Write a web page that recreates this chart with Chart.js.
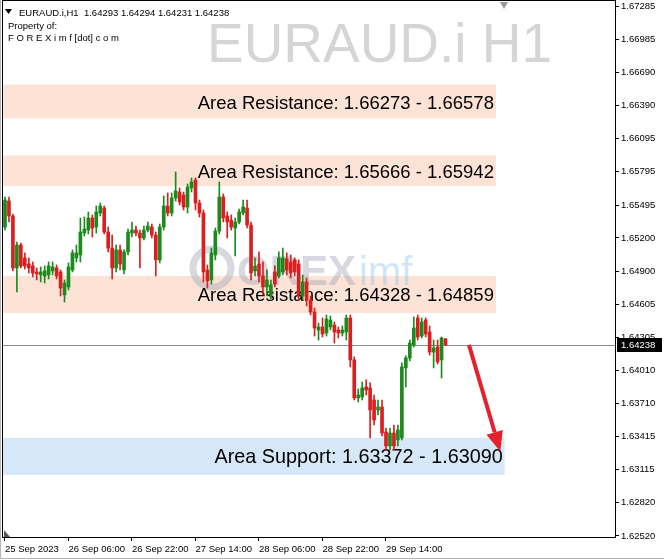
<!DOCTYPE html>
<html>
<head>
<meta charset="utf-8">
<script src="https://cdn.jsdelivr.net/npm/chart.js@4.4.0/dist/chart.umd.min.js"></script>
<style>
  html, body { margin: 0; padding: 0; background: #fff; }
  #wrap { width: 664px; height: 560px; }
</style>
</head>
<body>
<div id="wrap"><canvas id="chart" width="664" height="560"></canvas></div>
<script>
// EURAUD.i H1 candles (one per hour, oldest first)
const opens = [
  1.65298, 1.65532, 1.65397, 1.64930, 1.65136, 1.65020, 1.64966, 1.64948, 1.64894, 1.64867,
  1.64858, 1.64867, 1.64903, 1.64930, 1.64894, 1.64687, 1.64759, 1.64912, 1.65020, 1.65047,
  1.65244, 1.65271, 1.65379, 1.65298, 1.65424, 1.65469, 1.65253, 1.65109, 1.64930, 1.65092,
  1.64912, 1.65074, 1.65244, 1.65271, 1.65244, 1.65199, 1.65271, 1.65298, 1.65226, 1.65002,
  1.65298, 1.65487, 1.65424, 1.65559, 1.65613, 1.65586, 1.65478, 1.65649, 1.65721, 1.65514,
  1.65424, 1.64912, 1.64822, 1.65047, 1.65262, 1.65568, 1.65397, 1.65361, 1.65289, 1.65343,
  1.65424, 1.65469, 1.65316, 1.64903, 1.64966, 1.64858, 1.64759, 1.64687, 1.64894, 1.64858,
  1.64894, 1.65011, 1.64984, 1.65002, 1.64966, 1.64678, 1.64804, 1.64642, 1.64534, 1.64372,
  1.64399, 1.64345, 1.64399, 1.64417, 1.64372, 1.64345, 1.64354, 1.64480, 1.64103, 1.63761,
  1.63770, 1.63860, 1.63851, 1.63743, 1.63653, 1.63680, 1.63455, 1.63330, 1.63446, 1.63384,
  1.63402, 1.64031, 1.64121, 1.64237, 1.64480, 1.64318, 1.64462, 1.64354, 1.64174, 1.64219,
  1.64103, 1.64293
];
const highs = [
  1.65568, 1.65568, 1.65415, 1.65163, 1.65154, 1.65065, 1.65020, 1.64984, 1.64930, 1.64939,
  1.64948, 1.64984, 1.64984, 1.64957, 1.64912, 1.64822, 1.64975, 1.65092, 1.65136, 1.65379,
  1.65388, 1.65433, 1.65406, 1.65487, 1.65514, 1.65487, 1.65298, 1.65226, 1.65136, 1.65136,
  1.65092, 1.65280, 1.65343, 1.65307, 1.65271, 1.65307, 1.65343, 1.65325, 1.65253, 1.65325,
  1.65577, 1.65604, 1.65604, 1.65793, 1.65649, 1.65613, 1.65685, 1.65739, 1.65739, 1.65541,
  1.65451, 1.64957, 1.65109, 1.65289, 1.65703, 1.65595, 1.65433, 1.65406, 1.65379, 1.65460,
  1.65541, 1.65541, 1.65343, 1.65020, 1.65074, 1.64984, 1.64912, 1.64822, 1.64948, 1.65074,
  1.65109, 1.65065, 1.65047, 1.65020, 1.65002, 1.64867, 1.64840, 1.64678, 1.64570, 1.64435,
  1.64480, 1.64507, 1.64498, 1.64444, 1.64399, 1.64408, 1.64507, 1.64507, 1.64130, 1.63842,
  1.63905, 1.63923, 1.63896, 1.63788, 1.63743, 1.63743, 1.63491, 1.63491, 1.63518, 1.63518,
  1.64076, 1.64139, 1.64282, 1.64489, 1.64507, 1.64480, 1.64480, 1.64408, 1.64282, 1.64282,
  1.64309, 1.64294
];
const lows = [
  1.65271, 1.65343, 1.64903, 1.64714, 1.64930, 1.64921, 1.64885, 1.64849, 1.64822, 1.64804,
  1.64795, 1.64831, 1.64867, 1.64831, 1.64678, 1.64624, 1.64732, 1.64894, 1.64984, 1.64984,
  1.65217, 1.65235, 1.65208, 1.65244, 1.65397, 1.65235, 1.65074, 1.64831, 1.64894, 1.64912,
  1.64876, 1.65047, 1.65208, 1.65217, 1.64930, 1.65181, 1.65253, 1.65199, 1.64858, 1.64975,
  1.65271, 1.65397, 1.65397, 1.65532, 1.65496, 1.65451, 1.65424, 1.65613, 1.65451, 1.65388,
  1.64804, 1.64750, 1.64786, 1.65002, 1.65235, 1.65343, 1.65199, 1.65271, 1.65038, 1.65325,
  1.65406, 1.65289, 1.64822, 1.64858, 1.64804, 1.64687, 1.64678, 1.64651, 1.64759, 1.64840,
  1.64867, 1.64867, 1.64840, 1.64858, 1.64642, 1.64642, 1.64588, 1.64507, 1.64318, 1.64282,
  1.64309, 1.64318, 1.64372, 1.64255, 1.64300, 1.64318, 1.64282, 1.64040, 1.63743, 1.63725,
  1.63743, 1.63788, 1.63402, 1.63518, 1.63608, 1.63419, 1.63294, 1.63294, 1.63294, 1.63330,
  1.63384, 1.63860, 1.64094, 1.64219, 1.64282, 1.64300, 1.64309, 1.64147, 1.64031, 1.64067,
  1.63941, 1.64231
];
const closes = [
  1.65541, 1.65397, 1.64930, 1.65136, 1.64948, 1.64948, 1.64930, 1.64885, 1.64876, 1.64894,
  1.64903, 1.64948, 1.64939, 1.64858, 1.64750, 1.64795, 1.64939, 1.65065, 1.65065, 1.65253,
  1.65280, 1.65379, 1.65289, 1.65433, 1.65487, 1.65253, 1.65109, 1.64930, 1.65092, 1.64966,
  1.65074, 1.65253, 1.65271, 1.65244, 1.65199, 1.65271, 1.65307, 1.65226, 1.65002, 1.65298,
  1.65487, 1.65424, 1.65559, 1.65622, 1.65523, 1.65478, 1.65658, 1.65703, 1.65514, 1.65424,
  1.64894, 1.64813, 1.65065, 1.65262, 1.65568, 1.65379, 1.65343, 1.65298, 1.65343, 1.65433,
  1.65478, 1.65316, 1.64885, 1.64948, 1.64858, 1.64759, 1.64822, 1.64777, 1.64786, 1.65020,
  1.65020, 1.64912, 1.64885, 1.64894, 1.64687, 1.64804, 1.64642, 1.64534, 1.64390, 1.64399,
  1.64336, 1.64471, 1.64462, 1.64354, 1.64345, 1.64372, 1.64480, 1.64103, 1.63761, 1.63788,
  1.63851, 1.63833, 1.63653, 1.63563, 1.63680, 1.63446, 1.63330, 1.63446, 1.63330, 1.63473,
  1.64040, 1.64121, 1.64255, 1.64390, 1.64309, 1.64444, 1.64336, 1.64174, 1.64210, 1.64085,
  1.64300, 1.64238
];

// time axis: one label every 16 bars
const xTickLabels = ['25 Sep 2023', '26 Sep 06:00', '26 Sep 22:00', '27 Sep 14:00', '28 Sep 06:00', '28 Sep 22:00', '29 Sep 14:00'];
const barsPerTick = 16;
const totalSlots = 154.2; // bars that fit in the window incl. chart shift

// price axis
const yTicks = [1.67285, 1.66985, 1.66690, 1.66390, 1.66095, 1.65795, 1.65495, 1.65200, 1.64900,
  1.64605, 1.64305, 1.64010, 1.63710, 1.63415, 1.63115, 1.62820, 1.62520];
const yMin = 1.62511;
const yMax = 1.67330;

// drawn areas
const zoneTops = [1.66578, 1.65942, 1.64859, 1.63402];
const zoneBottoms = [1.66273, 1.65666, 1.64525, 1.63069];
const zoneEnds = [123.7, 123.7, 123.7, 125.9];
const zoneLabels = ['Area Resistance: 1.66273 - 1.66578', 'Area Resistance: 1.65666 - 1.65942',
  'Area Resistance: 1.64328 - 1.64859', 'Area Support: 1.63372 - 1.63090'];
const zoneKinds = ['res', 'res', 'res', 'sup'];

const lastPrice = 1.64238;
const arrowFrom = [116.9, 1.64238];
const arrowTo = [124.8, 1.63280];

const GREEN = '#1d8a1d';
const RED = '#d91f1f';
const FONT = '"Liberation Sans", Arial, sans-serif';
const zoneStyle = {
    res: { fill: '#fce3d6', font: '18.5px ' + FONT },
    sup: { fill: '#d6e7f8', font: '19.8px ' + FONT }
};

const candleColor = ctx => {
    const i = ctx.dataIndex;
    return closes[i] >= opens[i] ? GREEN : RED;
};

const overlay = {
    id: 'overlay',
    beforeDatasetsDraw(chart) {
        const { ctx, chartArea: a, scales: { x, y } } = chart;
        ctx.save();
        ctx.beginPath();
        ctx.rect(a.left, a.top, a.right - a.left, a.bottom - a.top);
        ctx.clip();

        // symbol watermark
        ctx.font = '56px ' + FONT;
        ctx.fillStyle = '#d5d5d5';
        const t = 'EURAUD.i H1';
        const tw = ctx.measureText(t).width;
        ctx.save();
        ctx.translate(207, 62);
        ctx.scale(345 / tw, 1);
        ctx.fillText(t, 0, 0);
        ctx.restore();

        // zones
        zoneTops.forEach((top, i) => {
            const y1 = y.getPixelForValue(top);
            const y2 = y.getPixelForValue(zoneBottoms[i]);
            const x2 = x.getPixelForValue(zoneEnds[i]);
            ctx.fillStyle = zoneStyle[zoneKinds[i]].fill;
            ctx.fillRect(a.left, y1, x2 - a.left, y2 - y1);
        });

        // site logo watermark
        ctx.globalAlpha = 0.42;
        ctx.strokeStyle = '#9fa3b4';
        ctx.lineWidth = 7;
        ctx.beginPath();
        ctx.arc(212, 268, 19, 0, Math.PI * 2);
        ctx.stroke();
        ctx.font = 'bold 42px ' + FONT;
        ctx.fillStyle = '#9fa3b4';
        ctx.fillText('OREX', 237, 285);
        const ow = ctx.measureText('OREX').width;
        ctx.fillStyle = '#8ec3ea';
        ctx.font = '40px ' + FONT;
        ctx.fillText('imf', 237 + ow + 3, 285);
        ctx.globalAlpha = 1;

        // zone texts
        ctx.fillStyle = '#000';
        ctx.textAlign = 'right';
        zoneTops.forEach((top, i) => {
            const mid = (y.getPixelForValue(top) + y.getPixelForValue(zoneBottoms[i])) / 2;
            const x2 = x.getPixelForValue(zoneEnds[i]);
            ctx.font = zoneStyle[zoneKinds[i]].font;
            ctx.fillText(zoneLabels[i], x2 - 2, mid + 7);
        });

        // bid line
        const py = Math.round(y.getPixelForValue(lastPrice)) + 0.5;
        ctx.strokeStyle = '#8a8a8a';
        ctx.lineWidth = 1;
        ctx.beginPath();
        ctx.moveTo(a.left, py);
        ctx.lineTo(a.right, py);
        ctx.stroke();
        ctx.restore();
    },
    afterDatasetsDraw(chart) {
        const { ctx, scales: { x, y } } = chart;
        const x0 = x.getPixelForValue(arrowFrom[0]), y0 = y.getPixelForValue(arrowFrom[1]);
        const x1 = x.getPixelForValue(arrowTo[0]), y1 = y.getPixelForValue(arrowTo[1]);
        const ang = Math.atan2(y1 - y0, x1 - x0);
        const head = 20, half = 8.5;
        const bx = x1 - head * Math.cos(ang), by = y1 - head * Math.sin(ang);
        ctx.save();
        ctx.strokeStyle = '#e4222d';
        ctx.fillStyle = '#e4222d';
        ctx.lineWidth = 4;
        ctx.beginPath();
        ctx.moveTo(x0, y0);
        ctx.lineTo(bx, by);
        ctx.stroke();
        ctx.beginPath();
        ctx.moveTo(x1, y1);
        ctx.lineTo(bx + half * Math.sin(ang), by - half * Math.cos(ang));
        ctx.lineTo(bx - half * Math.sin(ang), by + half * Math.cos(ang));
        ctx.closePath();
        ctx.fill();
        ctx.restore();
    },
    afterDraw(chart) {
        const { ctx, chartArea: a, scales: { y } } = chart;
        ctx.save();
        // frame
        ctx.strokeStyle = '#000';
        ctx.lineWidth = 1;
        ctx.strokeRect(a.left - 0.5, a.top - 0.5, a.right - a.left + 1, a.bottom - a.top + 1);
        // window edge
        ctx.strokeStyle = '#b4b4b4';
        ctx.beginPath();
        ctx.moveTo(0.5, 0); ctx.lineTo(0.5, 558.5); ctx.lineTo(664, 558.5);
        ctx.stroke();

        // header
        ctx.fillStyle = '#000';
        ctx.beginPath();
        ctx.moveTo(5, 9); ctx.lineTo(12, 9); ctx.lineTo(8.5, 14); ctx.closePath();
        ctx.fill();
        ctx.font = '9.5px ' + FONT;
        ctx.textAlign = 'left';
        ctx.fillText('EURAUD.i,H1  1.64293 1.64294 1.64231 1.64238', 19, 16);
        ctx.fillText('Property of:', 8, 29);
        ctx.fillText('F O R E X i m f [dot] c o m', 8, 41);

        // price tag
        const py = Math.round(y.getPixelForValue(lastPrice));
        ctx.fillStyle = '#000';
        ctx.fillRect(a.right + 2, py - 7, 45, 14);
        ctx.fillStyle = '#fff';
        ctx.textBaseline = 'middle';
        ctx.fillText(lastPrice.toFixed(5), a.right + 6, py + 0.5);

        // shift markers
        ctx.fillStyle = '#9a9a9a';
        ctx.beginPath();
        ctx.moveTo(500, a.top + 1); ctx.lineTo(508, a.top + 1); ctx.lineTo(504, a.top + 8); ctx.closePath();
        ctx.fill();
        ctx.fillStyle = '#555';
        ctx.beginPath();
        ctx.moveTo(a.left + 1, a.bottom - 7); ctx.lineTo(a.left + 1, a.bottom); ctx.lineTo(a.left + 7, a.bottom); ctx.closePath();
        ctx.fill();
        ctx.restore();
    }
};

const idx = opens.map((_, i) => i);

new Chart(document.getElementById('chart'), {
    type: 'bar',
    data: {
        datasets: [
            {
                label: 'body',
                data: idx.map(i => ({ x: i, y: [opens[i], closes[i]] })),
                backgroundColor: candleColor,
                barThickness: 3,
                minBarLength: 1,
                grouped: false,
                borderWidth: 0
            },
            {
                label: 'wick',
                data: idx.map(i => ({ x: i, y: [lows[i], highs[i]] })),
                backgroundColor: candleColor,
                barThickness: 1,
                grouped: false,
                borderWidth: 0
            }
        ]
    },
    options: {
        responsive: false,
        devicePixelRatio: 1,
        animation: false,
        layout: { padding: { left: 3, top: 1, right: 0, bottom: 0 } },
        plugins: { legend: { display: false }, tooltip: { enabled: false } },
        scales: {
            x: {
                type: 'linear',
                min: -0.5,
                max: totalSlots - 0.5,
                offset: false,
                grid: { drawOnChartArea: false, tickLength: 4, color: '#000', offset: false },
                border: { display: true, color: '#000' },
                ticks: {
                    color: '#000',
                    align: 'start',
                    padding: 3,
                    maxRotation: 0,
                    autoSkip: false,
                    font: { family: '"Liberation Sans", Arial, sans-serif', size: 9.5 },
                    callback: v => xTickLabels[v / barsPerTick]
                },
                afterBuildTicks: s => { s.ticks = xTickLabels.map((_, i) => ({ value: i * barsPerTick })); },
                afterFit: s => { s.height = 23; s.paddingLeft = 0; s.paddingRight = 0; }
            },
            y: {
                position: 'right',
                min: yMin,
                max: yMax,
                grid: { drawOnChartArea: false, tickLength: 4, color: '#000' },
                border: { display: true, color: '#000' },
                ticks: {
                    color: '#000',
                    padding: 2,
                    autoSkip: false,
                    font: { family: '"Liberation Sans", Arial, sans-serif', size: 9.5 },
                    callback: v => v.toFixed(5)
                },
                afterBuildTicks: s => { s.ticks = yTicks.map(v => ({ value: v })); },
                afterFit: s => { s.width = 49; s.paddingTop = 0; s.paddingBottom = 0; }
            }
        }
    },
    plugins: [overlay]
});
</script>
</body>
</html>
